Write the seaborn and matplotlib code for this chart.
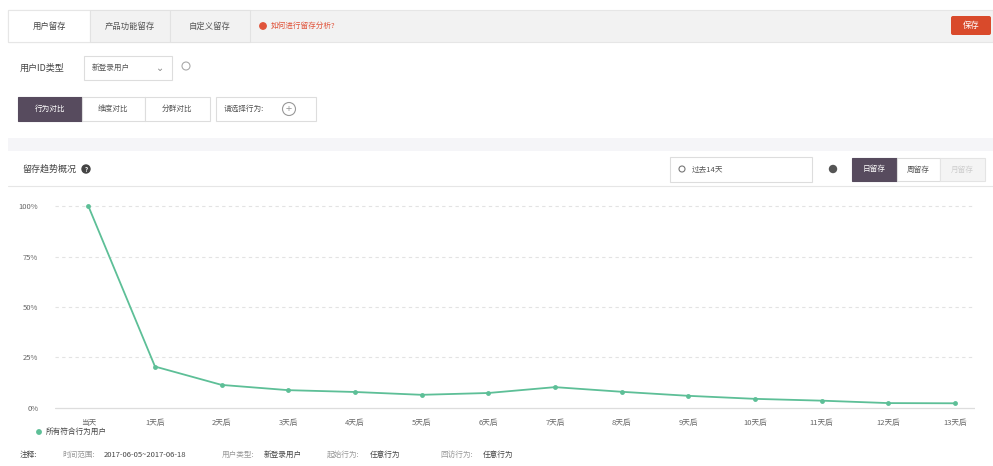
import matplotlib.pyplot as plt
import matplotlib.patches as mpatches
from matplotlib.lines import Line2D
import numpy as np
import pandas as pd
import seaborn as sns

# retention data
days = ["当天", "1天后", "2天后", "3天后", "4天后", "5天后", "6天后",
        "7天后", "8天后", "9天后", "10天后", "11天后", "12天后", "13天后"]
retention = [100, 20.5, 11.4, 8.8, 7.9, 6.5, 7.4, 10.3, 8.0, 6.0, 4.5, 3.6, 2.4, 2.3]
ytick_vals = [0, 25, 50, 75, 100]
ytick_labels = ["0%", "25%", "50%", "75%", "100%"]
series_name = "所有符合行为用户"

sns.set_theme(style="white")
plt.rcParams['font.family'] = ['Noto Sans CJK SC', 'DejaVu Sans']

W, H = 993, 466
fig = plt.figure(figsize=(W / 100, H / 100), dpi=100)
fig.patch.set_facecolor("white")

# full-figure axes in pixel coords for the dashboard chrome
ui = fig.add_axes([0, 0, 1, 1], zorder=0)
ui.set_xlim(0, W)
ui.set_ylim(H, 0)
ui.axis("off")

def box(x0, y0, x1, y1, fc="white", ec="#dddddd", lw=0.8, z=1):
    ui.add_patch(mpatches.Rectangle((x0, y0), x1 - x0, y1 - y0, facecolor=fc,
                                    edgecolor=ec, linewidth=lw, zorder=z))

def txt(x, y, s, size=6, color="#555555", ha="left", **kw):
    ui.text(x, y, s, fontsize=size, color=color, ha=ha, va="center", **kw)

# top tab bar
box(8, 10, W, 42, fc="#f2f2f2", ec="#e6e6e6")
box(8, 10, 90, 42, fc="white", ec="#e6e6e6", z=2)
box(90, 10, 170, 42, fc="#f2f2f2", ec="#e2e2e2", z=2)
box(170, 10, 250, 42, fc="#f2f2f2", ec="#e2e2e2", z=2)
txt(49, 26, "用户留存", ha="center", color="#444444")
txt(130, 26, "产品功能留存", ha="center")
txt(210, 26, "自定义留存", ha="center")
ui.add_patch(mpatches.Circle((263, 26), 3.2, color="#e0533a", zorder=3))
txt(271, 26, "如何进行留存分析?", size=5.5, color="#e0533a")
ui.add_patch(mpatches.FancyBboxPatch((951, 16), 40, 19, boxstyle="round,pad=0,rounding_size=2",
                                     facecolor="#d94a2b", edgecolor="none", zorder=3))
txt(971, 25.5, "保存", ha="center", color="white", size=6)

# id type row
txt(20, 68, "用户ID类型", size=6.5, color="#444444")
box(84, 56, 172, 80, fc="white", ec="#dddddd")
txt(92, 68, "新登录用户", size=5.5, color="#555555")
txt(160, 68, "⌄", size=7, color="#888888", ha="center")
ui.add_patch(mpatches.Circle((186, 66), 4, facecolor="none", edgecolor="#aaaaaa", lw=0.8, zorder=3))

# compare buttons
box(18, 97, 82, 121, fc="#574b5e", ec="#574b5e")
txt(50, 109, "行为对比", ha="center", color="white", size=5.5)
box(82, 97, 145, 121, fc="white", ec="#dddddd")
txt(113, 109, "维度对比", ha="center", size=5.5)
box(145, 97, 210, 121, fc="white", ec="#dddddd")
txt(177, 109, "分群对比", ha="center", size=5.5)
box(216, 97, 316, 121, fc="white", ec="#dddddd")
txt(224, 109, "请选择行为:", size=5.5)
ui.add_patch(mpatches.Circle((289, 109), 6.5, facecolor="none", edgecolor="#999999", lw=0.8, zorder=3))
txt(289, 109, "+", ha="center", size=8, color="#999999")

# separator band
box(8, 138, W, 151, fc="#f5f5f8", ec="none")

# chart header
txt(22, 169, "留存趋势概况", size=6.5, color="#444444")
ui.add_patch(mpatches.Circle((86, 169), 4, color="#444444", zorder=3))
txt(86, 169, "?", ha="center", size=4.5, color="white", weight="bold")
box(670, 157, 812, 182, fc="white", ec="#dddddd")
ui.add_patch(mpatches.Circle((682, 169), 3, facecolor="none", edgecolor="#777777", lw=0.8, zorder=3))
txt(692, 169, "过去14天", size=5.5)
ui.add_patch(mpatches.Circle((833, 169), 3.5, color="#555555", zorder=3))
box(852, 158, 897, 181, fc="#574b5e", ec="#574b5e")
txt(874, 169.5, "日留存", ha="center", color="white", size=5.5)
box(897, 158, 940, 181, fc="white", ec="#dddddd")
txt(918, 169.5, "周留存", ha="center", size=5.5)
box(940, 158, 985, 181, fc="#f4f4f4", ec="#e4e4e4")
txt(962, 169.5, "月留存", ha="center", size=5.5, color="#cccccc")
ui.plot([8, W], [186, 186], color="#e6e6e6", lw=0.8)

# legend row and footer note
ui.add_patch(mpatches.Circle((39, 432), 2.2, color="#5dbf97", zorder=3))
txt(46, 432, series_name, size=5.5, color="#444444")
notes = [(20, "注释:", "#444444"), (62, "时间范围:", "#999999"),
         (104, "2017-06-05~2017-06-18", "#444444"), (222, "用户类型:", "#999999"),
         (264, "新登录用户", "#444444"), (327, "起始行为:", "#999999"),
         (370, "任意行为", "#444444"), (440, "回访行为:", "#999999"),
         (483, "任意行为", "#444444")]
for x, s, c in notes:
    txt(x, 455, s, size=5.5, color=c, style="italic")

# chart axes: px 55..975 horizontally, 200..415 vertically
ax = fig.add_axes([55 / W, 1 - 415 / H, 920 / W, 215 / H], zorder=2)
ax.patch.set_alpha(0)
df = pd.DataFrame({"x": np.arange(len(days)), "rate": retention})
sns.lineplot(data=df, x="x", y="rate", ax=ax, color="#5dbf97", lw=1.3,
             marker="o", markersize=3.5, markeredgewidth=0)

ax.set_xlim(-0.5, 13.3)
ax.set_ylim(-3.5, 103)
ax.set_xticks(np.arange(len(days)))
ax.set_xticklabels(days, fontsize=5.5, color="#666666")
ax.set_yticks(ytick_vals)
ax.set_yticklabels(ytick_labels, fontsize=5.5, color="#666666")
ax.tick_params(axis="x", length=0, pad=3)
ax.tick_params(axis="y", length=0, pad=12)
for v in ytick_vals[1:]:
    ax.axhline(v, color="#e3e3e3", lw=0.8, ls=(0, (3, 3)), zorder=0)
ax.axhline(0, color="#dddddd", lw=0.9, zorder=0)
for s in ax.spines.values():
    s.set_visible(False)
ax.set_xlabel("")
ax.set_ylabel("")

fig.savefig("out.png", dpi=100)
